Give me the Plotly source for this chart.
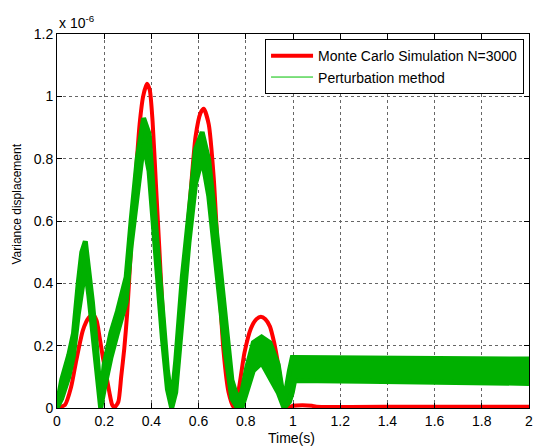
import plotly.graph_objects as go

# ---- data (values in units of 1e-6) ----
red_t = [0, 0.034, 0.06, 0.082, 0.11, 0.135, 0.152, 0.168, 0.18, 0.195, 0.207, 0.222, 0.234, 0.245,
         0.26, 0.272, 0.285, 0.297, 0.311, 0.321, 0.335, 0.35, 0.365, 0.381, 0.393, 0.405, 0.419, 0.433,
         0.447, 0.461, 0.475, 0.487,
         0.503, 0.524, 0.545, 0.566, 0.587, 0.608, 0.622, 0.643, 0.664, 0.678, 0.692, 0.706, 0.727, 0.748,
         0.77, 0.794, 0.822, 0.845, 0.864, 0.883, 0.902, 0.92, 0.937, 0.955, 0.97,
         0.99, 1.0, 1.04, 1.08, 1.1, 1.5, 2.0]
red_v = [0, 0.01, 0.068, 0.154, 0.25, 0.29, 0.30, 0.28, 0.229, 0.16, 0.112, 0.05, 0.01, 0.003,
         0.02, 0.10, 0.19, 0.30, 0.48, 0.60, 0.76, 0.91, 1.0, 1.04, 1.02, 0.92, 0.72, 0.52,
         0.32, 0.16, 0.05, 0.003,
         0.068, 0.28, 0.50, 0.69, 0.87, 0.946, 0.96, 0.91, 0.74, 0.55, 0.34, 0.18, 0.05, 0.003,
         0.06, 0.176, 0.256, 0.285, 0.293, 0.285, 0.262, 0.21, 0.14, 0.05, 0.004,
         0.004, 0.007, 0.009, 0.007, 0.004, 0.004, 0.004]

green_t = [0, 0.02, 0.05, 0.07, 0.09, 0.105, 0.12, 0.135, 0.15, 0.167, 0.185, 0.2, 0.228, 0.256,
           0.293, 0.314, 0.34, 0.367, 0.39, 0.419, 0.447, 0.468, 0.486, 0.503, 0.531, 0.559, 0.587,
           0.615, 0.643, 0.685, 0.713, 0.741, 0.765, 0.783, 0.804, 0.832, 0.867, 0.902, 0.937, 0.962,
           0.985, 0.997, 1.007, 1.3, 1.6, 1.8, 2.0]
green_lo = [0, 0.03, 0.10, 0.17, 0.30, 0.39, 0.45, 0.36, 0.25, 0.11, 0.0, 0.06, 0.16, 0.24,
            0.34, 0.52, 0.70, 0.85, 0.76, 0.48, 0.22, 0.06, 0.0, 0.05, 0.29, 0.53, 0.72,
            0.80, 0.68, 0.38, 0.18, 0.03, 0.0, 0.0, 0.05, 0.12, 0.145, 0.10, 0.05, 0.0,
            0.02, 0.05, 0.088, 0.086, 0.082, 0.079, 0.079]
green_hi = [0.01, 0.09, 0.17, 0.24, 0.40, 0.50, 0.535, 0.45, 0.34, 0.20, 0.03, 0.14, 0.24, 0.31,
            0.42, 0.60, 0.80, 0.93, 0.88, 0.58, 0.31, 0.12, 0.02, 0.15, 0.42, 0.635, 0.83,
            0.885, 0.795, 0.50, 0.28, 0.09, 0.03, 0.05, 0.13, 0.21, 0.228, 0.21, 0.14, 0.02,
            0.12, 0.162, 0.162, 0.161, 0.160, 0.158, 0.157]

x_ticks = [0, 0.2, 0.4, 0.6, 0.8, 1, 1.2, 1.4, 1.6, 1.8, 2]
x_labels = ["0", "0.2", "0.4", "0.6", "0.8", "1", "1.2", "1.4", "1.6", "1.8", "2"]
y_ticks = [0, 0.2, 0.4, 0.6, 0.8, 1, 1.2]
y_labels = ["0", "0.2", "0.4", "0.6", "0.8", "1", "1.2"]

RED = "#ff0000"
GREEN = "#00b000"
FONT = "Liberation Sans, Arial, sans-serif"

fig = go.Figure()
fig.add_trace(go.Scatter(x=red_t, y=red_v, mode="lines", name="Monte Carlo Simulation N=3000",
                         line=dict(color=RED, width=4, shape="spline", smoothing=0.6)))
fig.add_trace(go.Scatter(x=green_t, y=green_lo, mode="lines", showlegend=False,
                         line=dict(color=GREEN, width=5)))
fig.add_trace(go.Scatter(x=green_t, y=green_hi, mode="lines", showlegend=False, fill="tonexty",
                         fillcolor=GREEN, line=dict(color=GREEN, width=5)))
fig.add_trace(go.Scatter(x=[None], y=[None], mode="lines", name="Perturbation method",
                         line=dict(color="#00c000", width=1)))

axis_common = dict(showline=True, linecolor="black", linewidth=1, mirror="ticks",
                   ticks="inside", ticklen=5, tickcolor="black", showgrid=True,
                   gridcolor="#666666", griddash="dot", gridwidth=1, zeroline=False,
                   tickfont=dict(family=FONT, size=14, color="black"))

fig.update_xaxes(range=[0, 2], tickvals=x_ticks, ticktext=x_labels, ticklabeloverflow="allow",
                 **axis_common)
fig.update_yaxes(range=[0, 1.2], tickvals=y_ticks, ticktext=y_labels, **axis_common)

# axis titles and exponent label
fig.add_annotation(xref="paper", yref="paper", x=0.497, y=-0.080, xanchor="center", yanchor="middle",
                   showarrow=False, text="Time(s)", font=dict(family=FONT, size=14, color="black"))
fig.add_annotation(xref="paper", yref="paper", x=-0.084, y=0.545, xanchor="center", yanchor="middle",
                   showarrow=False, textangle=-90, text="Variance displacement",
                   font=dict(family=FONT, size=12, color="black"))
fig.add_annotation(xref="paper", yref="paper", x=0, y=1, xanchor="left", yanchor="bottom",
                   yshift=1, showarrow=False, text="x 10<sup>-6</sup>",
                   font=dict(family=FONT, size=14, color="black"))

fig.update_layout(
    width=536, height=448,
    margin=dict(l=57, r=3, t=34, b=40),
    paper_bgcolor="white", plot_bgcolor="white",
    font=dict(family=FONT, size=14, color="black"),
    showlegend=True,
    legend=dict(x=0.9895, y=0.986, xanchor="right", yanchor="top", traceorder="normal",
                bgcolor="white", bordercolor="black", borderwidth=1, itemwidth=42,
                font=dict(family=FONT, size=14, color="black"),
                tracegroupgap=0),
)

fig.write_html("out.html")
